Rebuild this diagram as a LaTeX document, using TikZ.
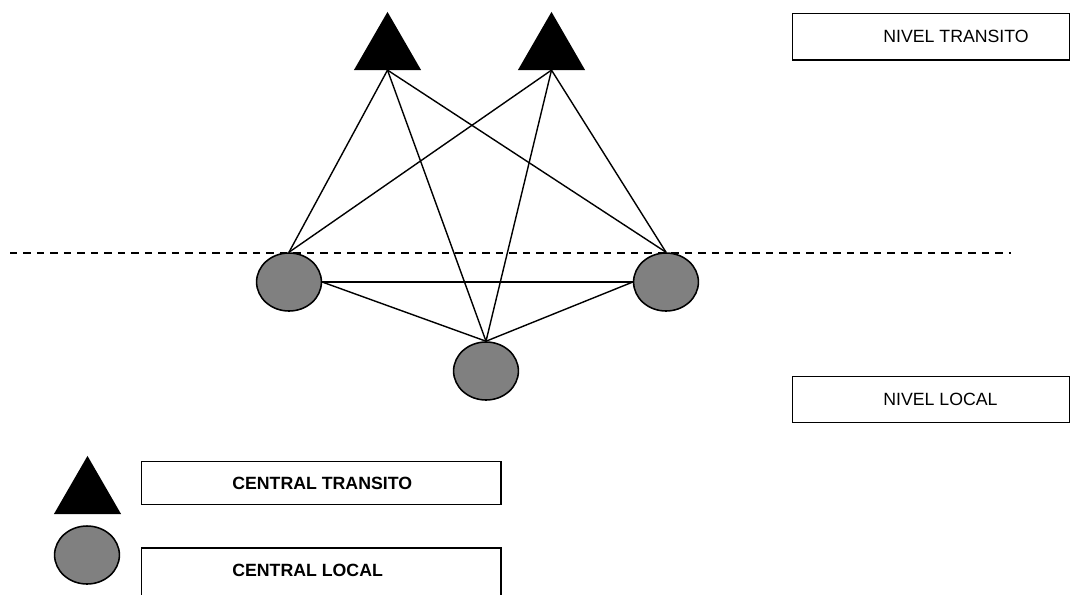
\documentclass[tikz,border=0pt]{standalone}
\usepackage{fontspec}
\setmainfont{Liberation Sans}
\usetikzlibrary{positioning, shapes.geometric}

\begin{document}
\begin{tikzpicture}[
    x=0.025cm, y=-0.025cm,
    font=\fontsize{12.6}{15}\selectfont,
    transito/.style={regular polygon, regular polygon sides=3, fill=black,
                     minimum size=1.94cm, inner sep=0pt, outer sep=0pt},
    local/.style={ellipse, draw, line width=1.1pt, fill=black!50,
                  minimum width=1.62cm, minimum height=1.45cm, inner sep=0pt},
    caja/.style={draw, line width=1pt, anchor=north west, inner sep=0pt,
                 minimum width=6.925cm},
    leyenda/.style={caja, minimum width=8.975cm},
    texto/.style={anchor=west, inner sep=0pt},
    enlace/.style={line width=1pt}
  ]
    \clip (0,0) rectangle (1072,594);
    % centrales
    \node[transito] (t1) at (387.5,50.7) {};
    \node[transito] (t2) at (551.5,50.7) {};
    \node[local] (l1) at (289,282) {};
    \node[local] (l2) at (666,282) {};
    \node[local] (l3) at (486,371) {};
    % separacion de niveles
    \coordinate (d1) at (10,252.7);
    \coordinate (d2) at (1010.7,252.7);
    \draw[line width=1.2pt, dash pattern=on 5pt off 4.6pt] (d1) -- (d2);
    % enlaces
    \foreach \t in {t1,t2} {
      \foreach \l in {l1,l2,l3} {
        \draw[enlace] (\t.south) -- (\l.north);
      }
    }
    \draw[enlace] (l1.east) -- (l2.west);
    \draw[enlace] (l1.east) -- (l3.north);
    \draw[enlace] (l2.west) -- (l3.north);
    % niveles
    \node[caja, minimum height=1.165cm] (bnt) at (792,12.7) {};
    \node[texto, right=2.275cm of bnt.west] {NIVEL TRANSITO};
    \node[caja, minimum height=1.15cm] (bnl) at (792,375.7) {};
    \node[texto, right=2.275cm of bnl.west] {NIVEL LOCAL};
    % leyenda
    \node[transito] (lt) at (87.5,494.7) {};
    \node[local] (ll) at (87,555) {};
    \node[leyenda, minimum height=1.075cm] (bct) at (141,461) {};
    \node[texto, font=\fontsize{12.6}{15}\selectfont\bfseries,
          right=2.275cm of bct.west] {CENTRAL TRANSITO};
    \node[leyenda, minimum height=1.3cm] (bcl) at (141,547.3) {};
    \node[texto, font=\fontsize{12.6}{15}\selectfont\bfseries]
          at ([xshift=2.275cm, yshift=-0.565cm]bcl.north west) {CENTRAL LOCAL};
\end{tikzpicture}
\end{document}
